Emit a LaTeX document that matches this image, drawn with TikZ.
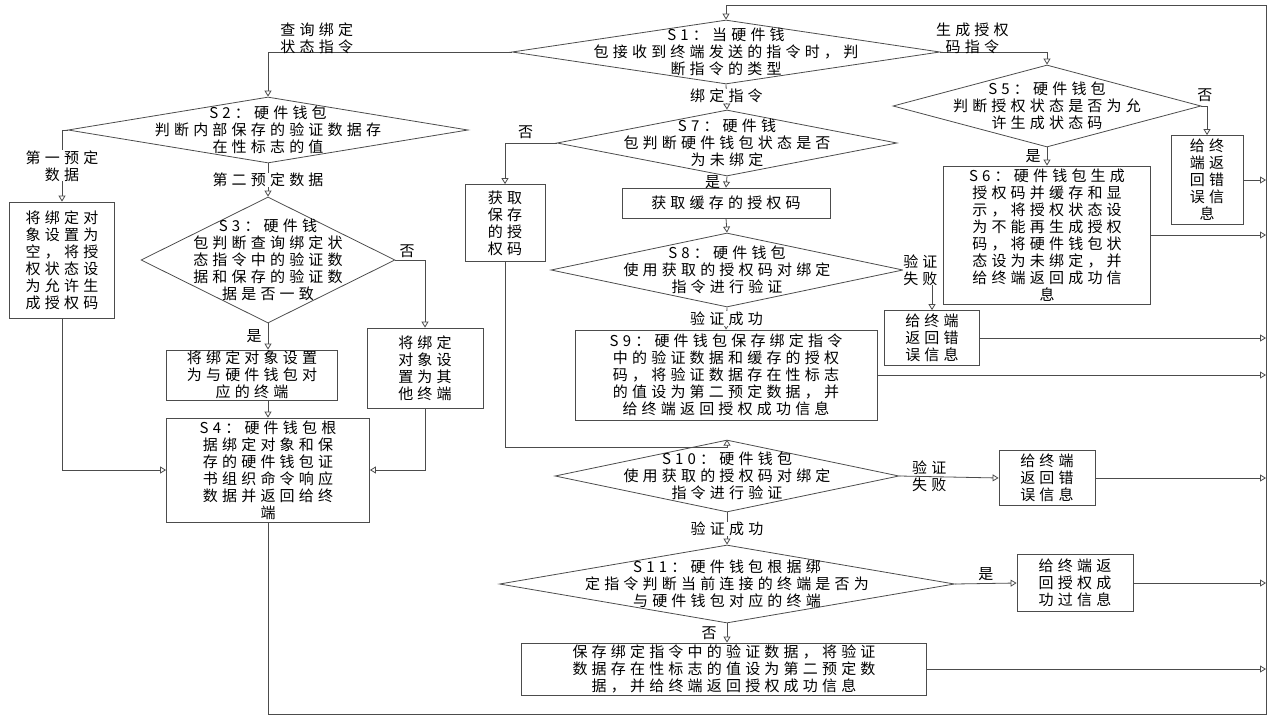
\documentclass[tikz,border=0pt]{standalone}
\usepackage{fontspec}
\setmainfont{Noto Sans CJK SC}[LetterSpace=28]
\usetikzlibrary{shapes.geometric,arrows.meta}
\tikzset{
  flow/.style={draw=black!70, line width=0.8pt},
  arr/.style={flow, -{Triangle[open,length=6pt,width=7pt]}},
  box/.style={draw=black!70, line width=0.8pt, align=center, inner sep=1pt},
  dia/.style={draw=black!70, line width=0.8pt, diamond, inner sep=0pt},
  txt/.style={align=center, inner sep=0pt, font=\fontsize{15}{17}\selectfont},
}
\newcommand{\dianode}[6]{%
  \node[dia, minimum width=#4, minimum height=#5] (#1) at (#2,#3) {};
  \node[txt] at (#1) {#6};}
\begin{document}
\begin{tikzpicture}[x=1pt,y=-1pt, font=\fontsize{15}{17}\selectfont]
  \useasboundingbox (0,0) rectangle (1280,720);
  % decisions
  \dianode{s1}{726}{52}{428pt}{64pt}{S1：当硬件钱\\包接收到终端发送的指令时，判\\断指令的类型}
  \dianode{s2}{268}{130}{400pt}{66pt}{S2：硬件钱包\\判断内部保存的验证数据存\\在性标志的值}
  \dianode{s3}{268}{260}{254pt}{126pt}{S3：硬件钱\\包判断查询绑定状\\态指令中的验证数\\据和保存的验证数\\据是否一致}
  \dianode{s5}{1047}{106}{308pt}{82pt}{S5：硬件钱包\\判断授权状态是否为允\\许生成状态码}
  \dianode{s7}{727}{143}{340pt}{66pt}{S7：硬件钱\\包判断硬件钱包状态是否\\为未绑定}
  \dianode{s8}{727}{270}{352pt}{74pt}{S8：硬件钱包\\使用获取的授权码对绑定\\指令进行验证}
  \dianode{s10}{727}{476}{344pt}{72pt}{S10：硬件钱包\\使用获取的授权码对绑定\\指令进行验证}
  \dianode{s11}{727}{584}{455pt}{78pt}{S11：硬件钱包根据绑\\定指令判断当前连接的终端是否为\\与硬件钱包对应的终端}
  % boxes
  \node[box, minimum width=105pt, minimum height=116pt] (clear) at (62,260) {将绑定对\\象设置为\\空，将授\\权状态设\\为允许生\\成授权码};
  \node[box, minimum width=171pt, minimum height=50pt] (same) at (252,375) {将绑定对象设置\\为与硬件钱包对\\应的终端};
  \node[box, minimum width=116pt, minimum height=80pt] (other) at (425,368) {将绑定\\对象设\\置为其\\他终端};
  \node[box, minimum width=203pt, minimum height=104pt] (s4) at (268,470) {S4：硬件钱包根\\据绑定对象和保\\存的硬件钱包证\\书组织命令响应\\数据并返回给终\\端};
  \node[box, minimum width=72pt, minimum height=89pt] (err1) at (1207,180) {给终\\端返\\回错\\误信\\息};
  \node[box, minimum width=207pt, minimum height=138pt] (s6) at (1047,235) {S6：硬件钱包生成\\授权码并缓存和显\\示，将授权状态设\\为不能再生成授权\\码，将硬件钱包状\\态设为未绑定，并\\给终端返回成功信\\息};
  \node[box, minimum width=80pt, minimum height=77pt] (saved) at (505,223) {获取\\保存\\的授\\权码};
  \node[box, minimum width=208pt, minimum height=30pt] (cached) at (726,203) {获取缓存的授权码};
  \node[box, minimum width=95pt, minimum height=55pt] (err2) at (932,338) {给终端\\返回错\\误信息};
  \node[box, minimum width=302pt, minimum height=90pt] (s9) at (726,375) {S9：硬件钱包保存绑定指令\\中的验证数据和缓存的授权\\码，将验证数据存在性标志\\的值设为第二预定数据，并\\给终端返回授权成功信息};
  \node[box, minimum width=96pt, minimum height=55pt] (err3) at (1047,478) {给终端\\返回错\\误信息};
  \node[box, minimum width=116pt, minimum height=57pt] (ok) at (1075,583) {给终端返\\回授权成\\功过信息};
  \node[box, minimum width=405pt, minimum height=52pt] (last) at (724,669) {保存绑定指令中的验证数据，将验证\\数据存在性标志的值设为第二预定数\\据，并给终端返回授权成功信息};
  % return bus
  \coordinate (busT) at (1266,5);
  \coordinate (busB) at (1266,714);
  \draw[flow] (s4.south) |- (busB) -- (busT);
  \draw[arr] (busT) -| (s1.north);
  \foreach \n in {err1,s6,err2,s9,err3,ok,last}
    \draw[arr] (\n.east) -- (\n.east -| busT);
  % connectors
  \draw[arr] (s1.west) -| node[pos=0.4, txt, above=-2pt] {查询绑定\\状态指令} (s2.north);
  \draw[arr] (s1.east) -| node[pos=0.15, txt, above=-2pt] {生成授权\\码指令} (s5.north);
  \draw[arr] (s1.south) -- node[txt, fill=white, pos=0.45] {绑定指令} (s7.north);
  \draw[arr] (s2.west) -| node[pos=0.75, txt, fill=white] {第一预定\\数据} (clear.north);
  \draw[arr] (s2.south) -- node[txt, fill=white] {第二预定数据} (s3.north);
  \draw[arr] (s3.east) -| node[pos=0.2, txt, above=2pt] {否} (other.north);
  \draw[arr] (s3.south) -- node[txt, left=6pt] {是} (same.north -| s3.south);
  \draw[arr] (same.south -| s4.north) -- (s4.north);
  \draw[arr] (clear.south) |- (s4.west);
  \draw[arr] (other.south) |- (s4.east);
  \draw[arr] (s5.east) -| node[pos=0.3, txt, above=4pt] {否} (err1.north);
  \draw[arr] (s5.south) -- node[txt, left=6pt] {是} (s6.north);
  \draw[arr] (s7.west) -| node[pos=0.3, txt, above=4pt] {否} (saved.north);
  \draw[arr] (s7.south) -- node[txt, left=6pt] {是} (cached.north);
  \draw[arr] (cached.south) -- (s8.north);
  \draw[arr] (s8.east) -| node[pos=0.2, txt, fill=white, right=-12pt] {验证\\失败} (err2.north);
  \draw[arr] (s8.south) -- node[txt, fill=white] {验证成功} (s9.north);
  \draw[arr] (saved.south) |- ([yshift=-8pt]s10.north) -- (s10.north);
  \draw[arr] (s10.east) -- node[txt, pos=0.3] {验证\\失败} (err3.west);
  \draw[arr] (s10.south) -- node[txt, fill=white] {验证成功} (s11.north);
  \draw[arr] (s11.east) -- node[txt, above=2pt] {是} (ok.west);
  \draw[arr] (s11.south) -- node[txt, left=10pt] {否} (last.north -| s11.south);
\end{tikzpicture}
\end{document}
